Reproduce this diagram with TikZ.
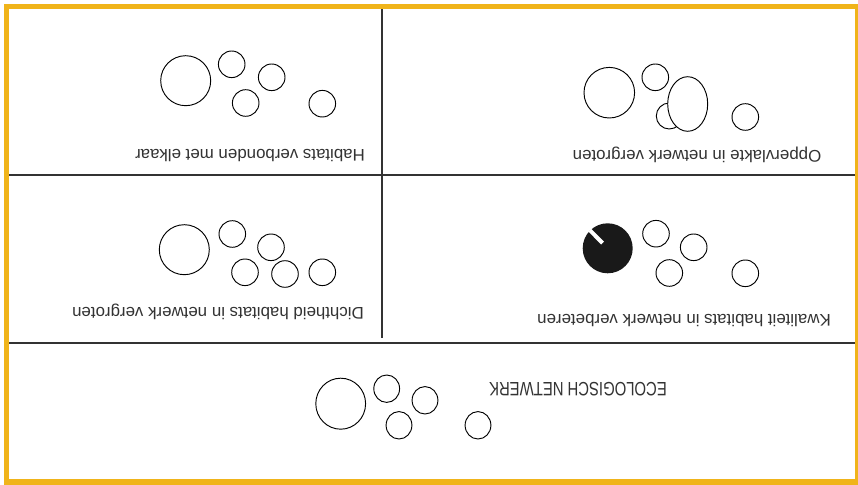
\documentclass[tikz,border=0pt]{standalone}
\usepackage{fontspec}
\setmainfont{Liberation Sans}
\definecolor{geelRand}{HTML}{F0B41A}
\definecolor{grijsT}{HTML}{333333}

\begin{document}
\begin{tikzpicture}[x=0.03cm,y=-0.03cm,
  habitat/.style={draw=black,line width=0.8pt,fill=white},
  vak/.style={grijsT,line width=1.4pt},
  bijschrift/.style={rotate=180,text=grijsT,inner sep=0pt,
    font=\fontsize{14.4}{17}\selectfont}]
  \useasboundingbox (0,0) rectangle (858,485);
  \fill[white] (0,0) rectangle (858,485);
  % vakken
  \draw[vak] (5,175) -- (856,175);
  \draw[vak] (5,343) -- (856,343);
  \draw[vak] (382,8) -- (382,338);
  \draw[geelRand,line width=4.4pt] (6.5,6.5) rectangle (857.5,482);
  % habitats verbonden met elkaar
  \draw[habitat] (185.7,80.7) circle[radius=25];
  \foreach \x/\y in {231.7/64.3,271.7/77.3,245.7/103,322.3/103.7}
    \draw[habitat] (\x,\y) circle[radius=13.3];
  \node[bijschrift] (verbonden) at (250,156) {Habitats verbonden met elkaar};
  % oppervlakte vergroot
  \draw[habitat] (609.3,92.7) circle[radius=25.3];
  \draw[habitat] (655.3,77.3) circle[radius=13.3];
  \draw[habitat] (669.3,116) circle[radius=13];
  \draw[habitat] (687.7,104) ellipse[x radius=20,y radius=27.3];
  \draw[habitat] (745.3,117) circle[radius=13.3];
  \node[bijschrift] (oppervlakte) at (697,155) {Oppervlakte in netwerk vergroten};
  % dichtheid vergroot
  \draw[habitat] (184.3,249.7) circle[radius=25];
  \foreach \x/\y in {232.3/234,271/247.3,245/272.3,285/274,322.3/272.3}
    \draw[habitat] (\x,\y) circle[radius=13.3];
  \node[bijschrift] (dichtheid) at (218,312) {Dichtheid habitats in netwerk vergroten};
  % kwaliteit verbeterd
  \fill[black!90] (607.7,248.3) circle[radius=25];
  \draw[white,line width=3.4pt] (590,230.4) -- (602.6,243.1);
  \foreach \x/\y in {656/233.7,693.7/247.3,669.3/273,745.3/273.3}
    \draw[habitat] (\x,\y) circle[radius=13.3];
  \node[bijschrift] (kwaliteit) at (684,321) {Kwaliteit habitats in netwerk verbeteren};
  % ecologisch netwerk
  \draw[habitat] (340.7,403.7) ellipse[x radius=24.9,y radius=25.5];
  \foreach \x/\y in {386.7/388.7,425/400.3,399/425.3,478/425.3}
    \draw[habitat] (\x,\y) ellipse[x radius=12.9,y radius=13.7];
  \node[bijschrift,xscale=0.77,font=\fontsize{16.5}{19}\selectfont] (netwerk)
    at (578,389) {ECOLOGISCH NETWERK};
\end{tikzpicture}
\end{document}
